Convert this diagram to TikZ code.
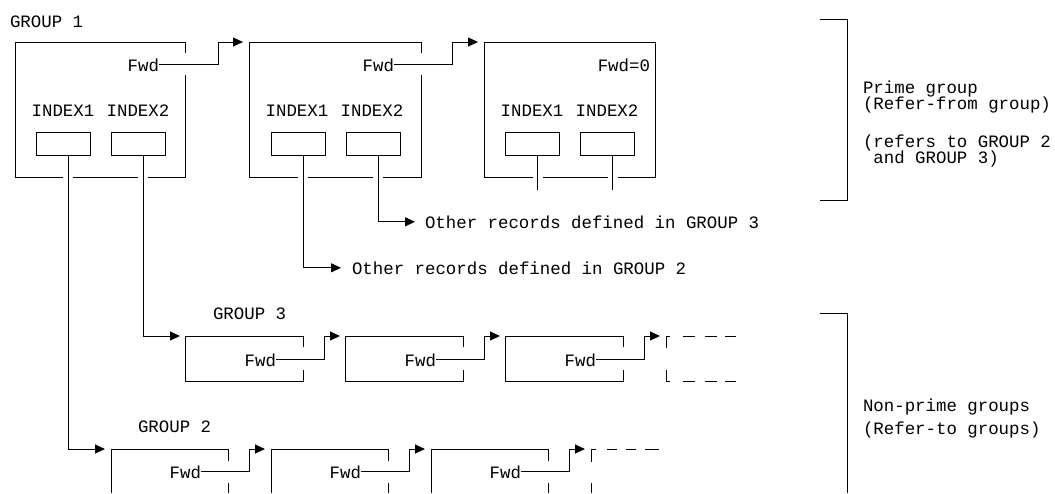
\documentclass[tikz,border=0pt]{standalone}
\usepackage{fontspec}
\setmonofont{Liberation Mono}
\usetikzlibrary{arrows.meta}
\begin{document}
\begin{tikzpicture}[x=1pt,y=-1pt,line width=1pt,
  txt/.style={font=\ttfamily\fontsize{17.4}{17.4}\selectfont,inner sep=0pt,outer sep=0pt},
  rtxt/.style={txt,anchor=base west,text height=11.5pt,text depth=3pt},
  frame/.style={inner sep=0pt,outer sep=0pt,draw=none,anchor=north west},
  ibox/.style={draw,inner sep=0pt,outer sep=0pt,minimum width=54pt,minimum height=23pt,anchor=north west},
  arr/.style={-{Triangle[length=10pt,width=9pt]}}]
\fill[white] (0,0) rectangle (1055,493);
\useasboundingbox (0,0) rectangle (1055,493);

% ---------- prime group ----------
\node[txt,anchor=base west] (g1lbl) at (10,27) {GROUP 1};
\node[frame,minimum width=170pt,minimum height=135pt] (p1) at (15,42) {};
\node[frame,minimum width=172pt,minimum height=135pt] (p2) at (249,42) {};
\node[frame,minimum width=171pt,minimum height=135pt] (p3) at (484,42) {};

\draw (185,53) -- (185,42) -- (15,42) -- (15,177) -- (63,177);
\draw (73,177) -- (138,177);
\draw (148,177) -- (185,177) -- (185,75);
\draw (421,53) -- (421,42) -- (249,42) -- (249,177) -- (298,177);
\draw (308,177) -- (373,177);
\draw (383,177) -- (421,177) -- (421,75);
\draw (533,177) -- (484,177) -- (484,42) -- (655,42) -- (655,177) -- (618,177);
\draw (543,177) -- (608,177);

\foreach \n/\x in {1/15,2/249,3/484}{
  \node[txt,anchor=base] (p\n i1) at (\x+48,116) {INDEX1};
  \node[txt,anchor=base] (p\n i2) at (\x+123,116) {INDEX2};
}
\node[ibox] (p1a) at (36,132) {};
\node[ibox] (p1b) at (111,132) {};
\node[ibox] (p2a) at (271,132) {};
\node[ibox] (p2b) at (346,132) {};
\node[ibox] (p3a) at (505,132) {};
\node[ibox] (p3b) at (580,132) {};

\node[txt,anchor=base east] (f1) at (159,71) {Fwd};
\node[txt,anchor=base east] (f2) at (394,71) {Fwd};
\node[txt,anchor=base east] (f3) at (650,71) {Fwd=0};
\draw[arr] (f1.east) -| ([xshift=33pt]p1.north east) -- ([xshift=-6pt]p2.north west);
\draw[arr] (f2.east) -| ([xshift=31pt]p2.north east) -- ([xshift=-6pt]p3.north west);

\draw ([xshift=5pt]p3a.south) -- ++(0,35);
\draw ([xshift=5pt]p3b.south) -- ++(0,35);

\node[txt,anchor=base west] (o3) at (425,228) {Other records defined in GROUP 3};
\node[txt,anchor=base west] (o2) at (352,274) {Other records defined in GROUP 2};
\draw[arr] ([xshift=5pt]p2b.south) |- ([xshift=-10pt]o3.west);
\draw[arr] ([xshift=5pt]p2a.south) |- ([xshift=-11pt]o2.west);

% prime bracket
\draw (820,19) -- (847,19) -- (847,200) -- (820,200);
\node[rtxt] (pr1) at (863,93) {Prime group};
\node[rtxt] (pr2) at (863,109) {(Refer-from group)};
\node[rtxt] (pr3) at (863,147) {(refers to GROUP 2};
\node[rtxt] (pr4) at (863,163) {\ and GROUP 3)};

% ---------- group 3 ----------
\node[txt,anchor=base west] (g3lbl) at (213,319) {GROUP 3};
\foreach \n/\x in {a/185,b/345,c/505}{
  \node[frame,minimum width=118pt,minimum height=45pt] (g3\n) at (\x,336) {};
  \draw (\x+118,347) -- (\x+118,336) -- (\x,336) -- (\x,381) -- (\x+118,381) -- (\x+118,370);
  \node[txt,anchor=base east] (g3f\n) at (\x+91,366) {Fwd};
}
\coordinate (g3d) at (665,336);
\draw[arr] (g3fa.east) -| ([xshift=21pt]g3a.north east) -- ([xshift=-5pt]g3b.north west);
\draw[arr] (g3fb.east) -| ([xshift=21pt]g3b.north east) -- ([xshift=-5pt]g3c.north west);
\draw[arr] (g3fc.east) -| ([xshift=21pt]g3c.north east) -- ([xshift=-5pt]g3d);
\draw (666,348) -- (666,336) -- (670,336);
\draw (683,336) -- (695,336) (705,336) -- (717,336) (725,336) -- (736,336);
\draw (666,370) -- (666,381) -- (670,381);
\draw (683,381) -- (695,381) (705,381) -- (717,381) (725,381) -- (736,381);

% ---------- group 2 ----------
\node[txt,anchor=base west] (g2lbl) at (138,432) {GROUP 2};
\foreach \n/\x in {a/111,b/271,c/431}{
  \node[frame,minimum width=117pt,minimum height=44pt] (g2\n) at (\x,449) {};
  \draw (\x+117,461) -- (\x+117,449) -- (\x,449) -- (\x,493);
  \draw (\x+117,483) -- (\x+117,493);
  \node[txt,anchor=base east] (g2f\n) at (\x+90,478) {Fwd};
}
\coordinate (g2d) at (591,449);
\draw[arr] (g2fa.east) -| ([xshift=21pt]g2a.north east) -- ([xshift=-6pt]g2b.north west);
\draw[arr] (g2fb.east) -| ([xshift=21pt]g2b.north east) -- ([xshift=-6pt]g2c.north west);
\draw[arr] (g2fc.east) -| ([xshift=21pt]g2c.north east) -- ([xshift=-6pt]g2d);
\draw (591,462) -- (591,449) -- (596,449);
\draw (607,449) -- (617,449) (626,449) -- (636,449) (645,449) -- (659,449);
\draw (591,483) -- (591,493);

% links from prime group to non-prime groups
\draw[arr] ([xshift=5pt]p1a.south) |- ([xshift=-6pt]g2a.north west);
\draw[arr] ([xshift=5pt]p1b.south) |- ([xshift=-5pt]g3a.north west);

% non-prime bracket
\draw (820,313) -- (847,313) -- (847,493);
\node[rtxt] (np1) at (863,411) {Non-prime groups};
\node[rtxt] (np2) at (863,434) {(Refer-to groups)};
\end{tikzpicture}
\end{document}
